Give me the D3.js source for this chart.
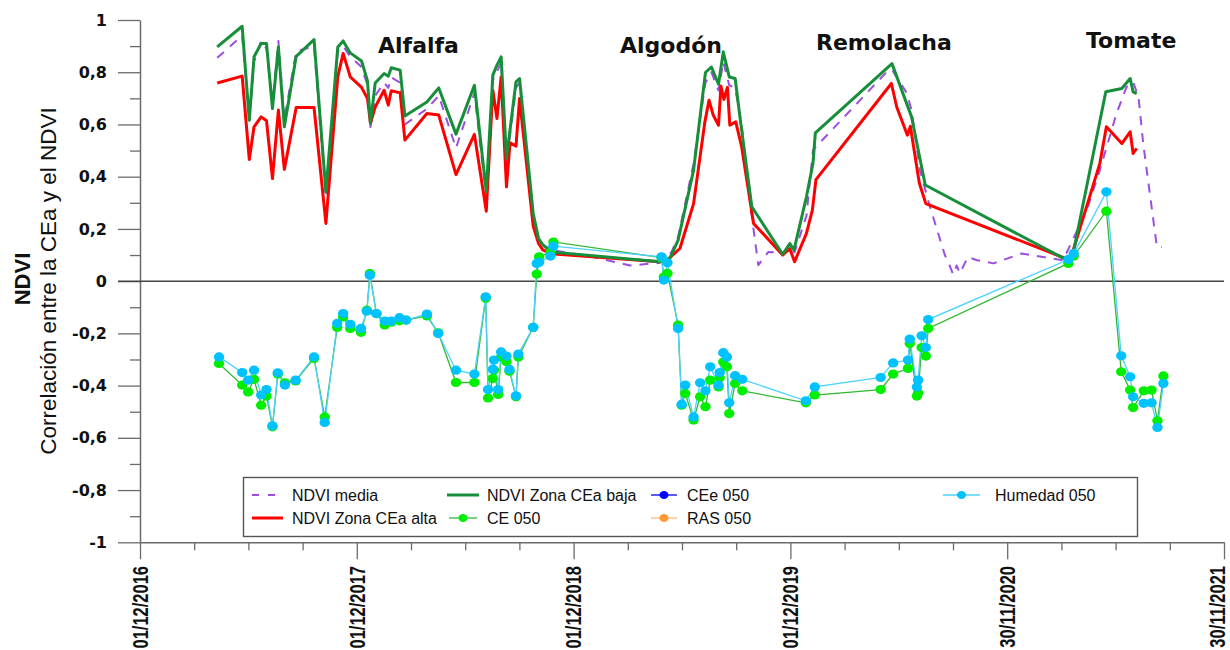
<!DOCTYPE html>
<html>
<head>
<meta charset="utf-8">
<script src="https://cdn.jsdelivr.net/npm/d3@7"></script>
<style>
  html, body { margin: 0; padding: 0; background: #ffffff; }
  svg { display: block; }
</style>
</head>
<body>
<svg id="chart" width="1230" height="650"></svg>
<script>
// ---- Series (date, value) ----
const ndviMedia = [
  ["2017-04-10",0.855],["2017-05-22",0.94],["2017-06-03",0.62],["2017-06-11",0.84],["2017-06-23",0.92],
  ["2017-07-02",0.89],["2017-07-12",0.68],["2017-07-22",0.92],["2017-08-01",0.62],["2017-08-21",0.88],
  ["2017-09-20",0.9],["2017-10-10",0.32],["2017-10-30",0.88],["2017-11-08",0.9],["2017-11-20",0.86],
  ["2017-12-09",0.82],["2017-12-19",0.75],["2017-12-24",0.59],["2018-01-01",0.71],["2018-01-16",0.76],
  ["2018-01-23",0.74],["2018-01-28",0.78],["2018-02-12",0.76],["2018-02-20",0.6],["2018-03-29",0.66],
  ["2018-04-18",0.71],["2018-05-17",0.51],["2018-06-17",0.72],["2018-07-07",0.32],["2018-07-18",0.77],
  ["2018-07-25",0.8],["2018-08-01",0.84],["2018-08-10",0.45],["2018-08-26",0.74],["2018-09-01",0.76],
  ["2018-09-24",0.24],["2018-10-03",0.16],["2018-10-10",0.14],["2018-10-24",0.12],["2018-12-29",0.095],
  ["2019-03-06",0.06],["2019-04-25",0.07],["2019-05-15",0.112],["2019-05-26",0.17],["2019-06-21",0.45],
  ["2019-07-11",0.76],["2019-07-21",0.8],["2019-08-02",0.73],["2019-08-10",0.84],["2019-08-20",0.75],
  ["2019-08-30",0.74],["2019-09-10",0.6],["2019-09-24",0.3],["2019-10-08",0.061],["2019-10-16",0.087],
  ["2019-10-25",0.112],["2019-11-05",0.11],["2019-11-18",0.1],["2019-11-30",0.13],["2019-12-08",0.11],
  ["2019-12-28",0.25],["2020-01-08",0.502],["2020-05-11",0.801],["2020-05-20",0.81],["2020-06-14",0.72],
  ["2020-06-22",0.655],["2020-07-06",0.425],["2020-07-23",0.285],["2020-08-17",0.1],["2020-08-26",0.055],
  ["2020-08-31",0.025],["2020-09-06",0.06],["2020-09-11",0.03],["2020-09-25",0.093],["2020-10-10",0.08],
  ["2020-11-07",0.068],["2020-12-24",0.106],["2021-03-04",0.08],["2021-04-13",0.272],["2021-05-05",0.425],
  ["2021-06-02",0.642],["2021-06-19",0.744],["2021-06-30",0.763],["2021-07-09",0.706],["2021-07-17",0.527],
  ["2021-08-09",0.131],["2021-08-17",0.131]
];

const ndviAlta = [
  ["2017-04-10",0.759],["2017-05-22",0.785],["2017-06-03",0.466],["2017-06-11",0.591],["2017-06-23",0.629],
  ["2017-07-02",0.614],["2017-07-12",0.393],["2017-07-22",0.655],["2017-08-01",0.428],["2017-08-21",0.665],
  ["2017-09-20",0.665],["2017-10-10",0.221],["2017-10-30",0.782],["2017-11-08",0.872],["2017-11-20",0.782],
  ["2017-12-09",0.742],["2017-12-19",0.699],["2017-12-24",0.604],["2018-01-01",0.667],["2018-01-16",0.731],
  ["2018-01-23",0.674],["2018-01-28",0.729],["2018-02-12",0.721],["2018-02-20",0.54],["2018-03-29",0.642],
  ["2018-04-18",0.636],["2018-05-17",0.408],["2018-06-17",0.562],["2018-07-07",0.268],["2018-07-18",0.731],
  ["2018-07-25",0.623],["2018-08-01",0.782],["2018-08-10",0.361],["2018-08-16",0.53],["2018-08-26",0.517],
  ["2018-09-01",0.699],["2018-09-24",0.211],["2018-10-03",0.144],["2018-10-10",0.12],["2018-10-24",0.105],
  ["2019-04-25",0.074],["2019-05-07",0.08],["2019-05-29",0.125],["2019-06-21",0.297],["2019-07-10",0.61],
  ["2019-07-17",0.693],["2019-07-24",0.636],["2019-08-02",0.597],["2019-08-06",0.747],["2019-08-11",0.696],
  ["2019-08-17",0.742],["2019-08-21",0.597],["2019-08-31",0.61],["2019-09-10",0.514],["2019-09-30",0.221],
  ["2019-11-18",0.1],["2019-11-30",0.125],["2019-12-08",0.074],["2019-12-28",0.183],["2020-01-07",0.272],
  ["2020-01-13",0.389],["2020-05-19",0.757],["2020-05-28",0.667],["2020-06-15",0.559],["2020-06-20",0.593],
  ["2020-07-05",0.376],["2020-07-16",0.297],["2021-03-16",0.08],["2021-05-05",0.451],["2021-05-16",0.591],
  ["2021-06-11",0.527],["2021-06-25",0.572],["2021-06-30",0.489],["2021-07-06",0.508]
];

const ndviBaja = [
  ["2017-04-10",0.897],["2017-05-22",0.976],["2017-06-03",0.616],["2017-06-11",0.859],["2017-06-23",0.91],
  ["2017-07-02",0.91],["2017-07-12",0.661],["2017-07-22",0.897],["2017-08-01",0.591],["2017-08-21",0.861],
  ["2017-09-20",0.925],["2017-10-10",0.342],["2017-10-30",0.897],["2017-11-08",0.92],["2017-11-20",0.874],
  ["2017-12-09",0.843],["2017-12-19",0.767],["2017-12-24",0.604],["2018-01-01",0.759],["2018-01-16",0.795],
  ["2018-01-23",0.785],["2018-01-28",0.817],["2018-02-12",0.808],["2018-02-20",0.632],["2018-03-29",0.686],
  ["2018-04-18",0.74],["2018-05-17",0.563],["2018-06-17",0.75],["2018-07-07",0.342],["2018-07-18",0.789],
  ["2018-07-25",0.827],["2018-08-01",0.859],["2018-08-10",0.47],["2018-08-26",0.763],["2018-09-01",0.776],
  ["2018-09-24",0.259],["2018-10-03",0.163],["2018-10-10",0.14],["2018-10-24",0.112],["2019-04-25",0.074],
  ["2019-05-12",0.087],["2019-05-26",0.157],["2019-06-21",0.425],["2019-07-11",0.799],["2019-07-21",0.82],
  ["2019-08-02",0.754],["2019-08-10",0.878],["2019-08-20",0.782],["2019-08-30",0.776],["2019-09-07",0.629],
  ["2019-09-27",0.285],["2019-11-18",0.103],["2019-11-30",0.144],["2019-12-07",0.119],["2019-12-28",0.323],
  ["2020-01-08",0.451],["2020-01-12",0.568],["2020-05-20",0.833],["2020-06-22",0.629],["2020-07-15",0.368],
  ["2021-03-16",0.074],["2021-03-21",0.106],["2021-05-15",0.725],["2021-06-11",0.738],["2021-06-25",0.776],
  ["2021-06-30",0.725],["2021-07-06",0.718]
];

// Soil sampling dates with correlation of CE 050 and Humedad 050
const sueloDates = [
  "2017-04-13","2017-05-22","2017-06-01","2017-06-11","2017-06-23","2017-07-02","2017-07-12","2017-07-21",
  "2017-08-02","2017-08-20","2017-09-20","2017-10-08","2017-10-29","2017-11-08","2017-11-20","2017-12-08",
  "2017-12-18","2017-12-23","2018-01-03","2018-01-17","2018-01-28","2018-02-11","2018-02-22","2018-03-29",
  "2018-04-17","2018-05-17","2018-06-17","2018-07-06","2018-07-10","2018-07-18","2018-07-20","2018-07-27",
  "2018-08-01","2018-08-10","2018-08-15","2018-08-26","2018-08-30","2018-09-24","2018-09-30","2018-10-04",
  "2018-10-23","2018-10-28","2019-04-28","2019-05-02","2019-05-08","2019-05-26","2019-06-01","2019-06-07",
  "2019-06-21","2019-07-02","2019-07-11","2019-07-19","2019-08-02","2019-08-04","2019-08-10","2019-08-16",
  "2019-08-20","2019-08-30","2019-09-11","2019-12-27","2020-01-11","2020-05-01","2020-05-22","2020-06-16",
  "2020-06-19","2020-07-01","2020-07-03","2020-07-09","2020-07-16","2020-07-20","2021-03-13","2021-03-22",
  "2021-05-16","2021-06-10","2021-06-25","2021-06-30","2021-07-18","2021-07-31","2021-08-10","2021-08-20"
];
const ce050 = [
  -0.315,-0.398,-0.424,-0.376,-0.475,-0.44,-0.558,-0.356,
  -0.389,-0.382,-0.296,-0.52,-0.177,-0.137,-0.181,-0.196,
  -0.111,0.029,-0.124,-0.168,-0.157,-0.152,-0.149,-0.133,
  -0.198,-0.388,-0.388,-0.065,-0.447,-0.373,-0.34,-0.434,
  -0.29,-0.309,-0.345,-0.443,-0.29,-0.177,0.027,0.093,
  0.11,0.15,0.09,0.016,0.03,-0.168,-0.475,-0.43,
  -0.532,-0.443,-0.481,-0.379,-0.405,-0.37,-0.31,-0.328,
  -0.507,-0.392,-0.42,-0.466,-0.436,-0.415,-0.356,-0.334,
  -0.239,-0.44,-0.428,-0.254,-0.287,-0.181,0.068,0.096,
  0.268,-0.347,-0.417,-0.484,-0.42,-0.417,-0.535,-0.363
];
const humedad050 = [
  -0.29,-0.35,-0.379,-0.341,-0.436,-0.415,-0.554,-0.351,
  -0.398,-0.379,-0.29,-0.541,-0.162,-0.124,-0.165,-0.181,
  -0.115,0.023,-0.124,-0.153,-0.153,-0.14,-0.149,-0.126,
  -0.2,-0.341,-0.356,-0.06,-0.415,-0.337,-0.302,-0.415,
  -0.271,-0.287,-0.338,-0.439,-0.279,-0.177,0.068,0.072,
  0.096,0.134,0.093,0.004,0.07,-0.181,-0.471,-0.398,
  -0.52,-0.389,-0.42,-0.328,-0.398,-0.35,-0.274,-0.29,
  -0.466,-0.362,-0.376,-0.458,-0.405,-0.369,-0.313,-0.302,
  -0.222,-0.405,-0.379,-0.209,-0.254,-0.147,0.083,0.106,
  0.342,-0.286,-0.366,-0.443,-0.468,-0.466,-0.56,-0.392
];
// Listed in the legend, no values plotted
const cee050 = [];
const ras050 = [];

// Axis ticks
const yTickValues = [-1,-0.8,-0.6,-0.4,-0.2,0,0.2,0.4,0.6,0.8,1];
const xTickLabels = ["01/12/2016","01/12/2017","01/12/2018","01/12/2019","30/11/2020","30/11/2021"];
const cropNames = ["Alfalfa","Algodón","Remolacha","Tomate"];

// ---- Drawing ----
const W = 1230;
const parse = d3.utcParse("%Y-%m-%d");
const parseTick = d3.utcParse("%d/%m/%Y");
const fmtTick = d3.utcFormat("%d/%m/%Y");

const svg = d3.select("#chart");
const x = d3.scaleUtc()
  .domain([parseTick(xTickLabels[0]), parseTick(xTickLabels[xTickLabels.length - 1])])
  .range([140, 1224]);
const y = d3.scaleLinear().domain([-1, 1]).range([542.3, 20]);

const axisColor = "#6b6b6b";
const fmtY = v => Math.abs(v) < 1e-9 ? "0" : String(+v.toFixed(1)).replace(".", ",");

// Y axis: minor ticks, then major ticks with labels
const yMinor = d3.range(-0.9, 1.0, 0.2);
svg.append("g").attr("transform", "translate(140,0)")
  .call(d3.axisLeft(y).tickValues(yMinor).tickSize(10).tickSizeOuter(0).tickFormat(""))
  .call(g => g.select(".domain").remove())
  .call(g => g.selectAll("line").attr("stroke", axisColor).attr("stroke-width", 1.3));

const yAxis = svg.append("g").attr("transform", "translate(140,0)")
  .call(d3.axisLeft(y).tickValues(yTickValues).tickSize(22).tickPadding(11).tickSizeOuter(0).tickFormat(fmtY));
yAxis.select(".domain").attr("stroke", axisColor).attr("stroke-width", 1.5);
yAxis.selectAll("line").attr("stroke", axisColor).attr("stroke-width", 1.3);
yAxis.selectAll("text")
  .attr("fill", "#111")
  .style("font-family", "'DejaVu Sans', sans-serif")
  .style("font-weight", "bold")
  .style("font-size", "16px");

// X axis: ticks every 365 days, minor ticks each quarter of that
const t0 = parseTick(xTickLabels[0]);
const dayMs = 86400000;
const xMajor = xTickLabels.map(parseTick);
const xMinor = d3.range(0, 20).filter(i => i % 4 !== 0).map(i => new Date(+t0 + i * 365 / 4 * dayMs));

svg.append("g").attr("transform", "translate(0,542.3)")
  .call(d3.axisBottom(x).tickValues(xMinor).tickSize(8).tickSizeOuter(0).tickFormat(""))
  .call(g => g.select(".domain").remove())
  .call(g => g.selectAll("line").attr("stroke", axisColor).attr("stroke-width", 1.3));

const xAxis = svg.append("g").attr("transform", "translate(0,542.3)")
  .call(d3.axisBottom(x).tickValues(xMajor).tickSize(17).tickSizeOuter(0).tickFormat(""));
xAxis.select(".domain").attr("stroke", axisColor).attr("stroke-width", 1.5);
xAxis.selectAll("line").attr("stroke", axisColor).attr("stroke-width", 1.3);

// Rotated date labels (the last one is nudged to stay inside the page)
svg.append("g").selectAll("text").data(xMajor).join("text")
  .attr("transform", d => `translate(${Math.min(x(d), W - 12.5)},566) rotate(-90) scale(1,1.3)`)
  .attr("text-anchor", "end")
  .attr("dy", "0.36em")
  .attr("fill", "#111")
  .style("font-family", "'Liberation Sans', Arial, sans-serif")
  .style("font-weight", "bold")
  .style("font-size", "16.5px")
  .text(d => fmtTick(d));

// Zero reference line
svg.append("line")
  .attr("x1", 118).attr("x2", x.range()[1])
  .attr("y1", y(0)).attr("y2", y(0))
  .attr("stroke", "#444").attr("stroke-width", 1.5);

// Y axis title
const yTitle = svg.append("g").style("font-family", "'Liberation Sans', Arial, sans-serif").attr("fill", "#111");
yTitle.append("text")
  .attr("transform", "translate(30,279) rotate(-90)")
  .attr("text-anchor", "middle")
  .style("font-weight", "bold").style("font-size", "22px")
  .text("NDVI");
yTitle.append("text")
  .attr("transform", "translate(56,281) rotate(-90)")
  .attr("text-anchor", "middle")
  .style("font-size", "22.5px")
  .text("Correlación entre la CEa y el NDVI");

// NDVI lines
const toPts = arr => arr.map(([d, v]) => ({ date: parse(d), v }));
const line = d3.line().x(d => x(d.date)).y(d => y(d.v));

const colMedia = "#9b4fe0", colAlta = "#ff0000", colBaja = "#178f3a";
const colCE = "#00ee00", colCELine = "#33b833";
const colHum = "#00c2ff", colHumLine = "#4dd2ff";
const colCEe = "#0000ff", colRAS = "#ff9933";

svg.append("path").datum(toPts(ndviMedia))
  .attr("d", line).attr("fill", "none")
  .attr("stroke", colMedia).attr("stroke-width", 2)
  .attr("stroke-dasharray", "9,8").attr("stroke-linejoin", "round");

svg.append("path").datum(toPts(ndviAlta))
  .attr("d", line).attr("fill", "none")
  .attr("stroke", colAlta).attr("stroke-width", 3)
  .attr("stroke-linejoin", "round");

svg.append("path").datum(toPts(ndviBaja))
  .attr("d", line).attr("fill", "none")
  .attr("stroke", colBaja).attr("stroke-width", 3)
  .attr("stroke-linejoin", "round");

// Soil correlation series: lines first, then markers
const soil = vals => sueloDates.map((d, i) => ({ date: parse(d), v: vals[i] }));
const ceData = soil(ce050), humData = soil(humedad050);

svg.append("path").datum(ceData).attr("d", line).attr("fill", "none")
  .attr("stroke", colCELine).attr("stroke-width", 1.3);
svg.append("path").datum(humData).attr("d", line).attr("fill", "none")
  .attr("stroke", colHumLine).attr("stroke-width", 1.3);

[[cee050, colCEe], [ras050, colRAS], [ceData, colCE], [humData, colHum]].forEach(([data, col]) => {
  svg.append("g").selectAll("ellipse").data(data).join("ellipse")
    .attr("cx", d => x(d.date)).attr("cy", d => y(d.v))
    .attr("rx", 5.2).attr("ry", 4.6)
    .attr("fill", col);
});

// Crop season titles
const titlePos = [[378, 53], [620, 52.5], [816, 50], [1086, 47.5]];
svg.append("g").selectAll("text").data(cropNames).join("text")
  .attr("x", (d, i) => titlePos[i][0]).attr("y", (d, i) => titlePos[i][1])
  .attr("fill", "#111")
  .style("font-family", "'DejaVu Sans', sans-serif")
  .style("font-weight", "bold")
  .style("font-size", "22px")
  .text(d => d);

// Legend
const lg = svg.append("g").style("font-family", "'Liberation Sans', Arial, sans-serif");
lg.append("rect").attr("x", 243.5).attr("y", 477.5).attr("width", 894).attr("height", 59)
  .attr("fill", "#fff").attr("stroke", "#555").attr("stroke-width", 1.4);

const legendItems = [
  { label: "NDVI media",         x1: 252, x2: 275, ty: 495, tx: 292, col: colMedia, w: 2,   dash: "7,9" },
  { label: "NDVI Zona CEa alta", x1: 252, x2: 283, ty: 518, tx: 292, col: colAlta,  w: 3 },
  { label: "NDVI Zona CEa baja", x1: 447, x2: 479, ty: 495, tx: 487, col: colBaja,  w: 3 },
  { label: "CE 050",             x1: 449, x2: 477, ty: 518, tx: 487, col: colCELine, w: 1.3, dot: colCE },
  { label: "CEe 050",            x1: 651, x2: 677, ty: 495, tx: 687, col: colCEe,   w: 1.3, dot: colCEe },
  { label: "RAS 050",            x1: 651, x2: 677, ty: 518, tx: 687, col: "#ffbb77", w: 1.3, dot: colRAS },
  { label: "Humedad 050",        x1: 943, x2: 980, ty: 495, tx: 995, col: colHumLine, w: 1.3, dot: colHum }
];
legendItems.forEach(it => {
  lg.append("line").attr("x1", it.x1).attr("x2", it.x2).attr("y1", it.ty).attr("y2", it.ty)
    .attr("stroke", it.col).attr("stroke-width", it.w)
    .attr("stroke-dasharray", it.dash || null);
  if (it.dot) {
    lg.append("ellipse").attr("cx", (it.x1 + it.x2) / 2).attr("cy", it.ty)
      .attr("rx", 4.5).attr("ry", 4).attr("fill", it.dot);
  }
  lg.append("text").attr("x", it.tx).attr("y", it.ty + 5.8)
    .attr("fill", "#111").style("font-size", "16px").text(it.label);
});
</script>
</body>
</html>
